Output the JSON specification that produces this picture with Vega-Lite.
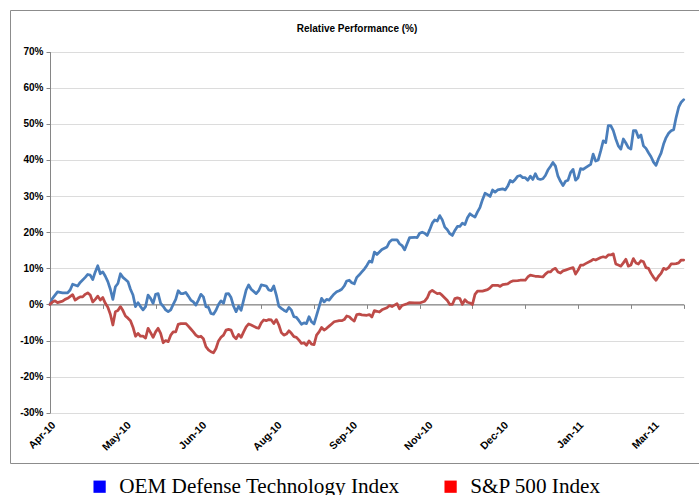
{
  "$schema": "https://vega.github.io/schema/vega-lite/v6.json",
  "width": 692,
  "height": 453,
  "autosize": {"type": "none"},
  "padding": {"left": 10, "top": 10, "right": -3, "bottom": 32},
  "background": "white",
  "config": {"view": {"stroke": "#8C8C8C", "strokeWidth": 1}},
  "title": {"text": "Relative Performance (%)", "font": "Liberation Sans", "fontSize": 10, "fontWeight": "bold", "color": "black", "offset": -24, "anchor": "middle", "dx": 1},
  "datasets": {
    "oem": [
      {"day":0,"value":0},{"day":1,"value":1.7},{"day":3,"value":3.5},{"day":5,"value":3.2},{"day":7,"value":3.2},{"day":8,"value":4.0},{"day":9,"value":5.6},{"day":11,"value":5.1},{"day":12,"value":6.1},{"day":14,"value":7.5},{"day":15,"value":8.3},{"day":16,"value":8.1},{"day":17,"value":6.9},{"day":18,"value":9.0},{"day":19,"value":10.7},{"day":20,"value":8.5},{"day":21,"value":9.0},{"day":22,"value":7.8},{"day":23,"value":6.3},{"day":24,"value":4.2},{"day":25,"value":1.4},{"day":26,"value":4.9},{"day":27,"value":5.8},{"day":28,"value":8.5},{"day":29,"value":7.5},{"day":30,"value":6.9},{"day":31,"value":6.3},{"day":32,"value":4.2},{"day":33,"value":2.6},{"day":34,"value":-0.6},{"day":35,"value":0.5},{"day":36,"value":-0.6},{"day":37,"value":-1.5},{"day":38,"value":-0.6},{"day":39,"value":2.6},{"day":40,"value":1.7},{"day":41,"value":0.3},{"day":42,"value":2.8},{"day":43,"value":3.0},{"day":44,"value":0.3},{"day":45,"value":-0.5},{"day":46,"value":-1.5},{"day":47,"value":-2.0},{"day":48,"value":-1.5},{"day":49,"value":0.0},{"day":50,"value":1.4},{"day":51,"value":3.8},{"day":52,"value":3.0},{"day":53,"value":3.0},{"day":54,"value":3.3},{"day":55,"value":2.3},{"day":56,"value":1.2},{"day":57,"value":0.7},{"day":58,"value":-0.2},{"day":59,"value":1.2},{"day":60,"value":2.8},{"day":61,"value":2.1},{"day":62,"value":-0.6},{"day":63,"value":-0.8},{"day":64,"value":-2.5},{"day":65,"value":-2.7},{"day":66,"value":-1.6},{"day":67,"value":0.0},{"day":68,"value":1.0},{"day":69,"value":0.3},{"day":70,"value":2.9},{"day":71,"value":3.0},{"day":72,"value":1.9},{"day":73,"value":-0.5},{"day":74,"value":-2.0},{"day":75,"value":-0.5},{"day":76,"value":-1.6},{"day":77,"value":1.2},{"day":78,"value":4.0},{"day":79,"value":5.4},{"day":80,"value":4.2},{"day":82,"value":3.0},{"day":83,"value":3.8},{"day":84,"value":5.4},{"day":86,"value":5.1},{"day":87,"value":4.0},{"day":88,"value":3.8},{"day":89,"value":5.1},{"day":90,"value":2.6},{"day":91,"value":-0.5},{"day":92,"value":-1.1},{"day":93,"value":-1.6},{"day":94,"value":-2.0},{"day":95,"value":-0.8},{"day":96,"value":-1.6},{"day":97,"value":-3.4},{"day":98,"value":-3.6},{"day":99,"value":-4.5},{"day":100,"value":-5.5},{"day":101,"value":-5.1},{"day":102,"value":-5.3},{"day":103,"value":-3.4},{"day":104,"value":-4.8},{"day":105,"value":-5.4},{"day":106,"value":-3.0},{"day":107,"value":-0.7},{"day":108,"value":1.7},{"day":109,"value":0.7},{"day":110,"value":1.4},{"day":111,"value":1.2},{"day":112,"value":2.1},{"day":113,"value":2.9},{"day":114,"value":3.5},{"day":115,"value":3.8},{"day":116,"value":4.2},{"day":117,"value":5.1},{"day":118,"value":6.5},{"day":119,"value":6.7},{"day":120,"value":6.0},{"day":121,"value":5.7},{"day":122,"value":7.5},{"day":123,"value":8.2},{"day":124,"value":9.0},{"day":125,"value":9.8},{"day":126,"value":10.8},{"day":127,"value":12.0},{"day":128,"value":11.7},{"day":129,"value":14.5},{"day":130,"value":13.8},{"day":131,"value":14.5},{"day":132,"value":15.2},{"day":134,"value":15.9},{"day":135,"value":17.3},{"day":136,"value":17.9},{"day":138,"value":17.9},{"day":139,"value":16.8},{"day":140,"value":16.3},{"day":141,"value":15.1},{"day":142,"value":16.8},{"day":143,"value":18.5},{"day":145,"value":18.6},{"day":146,"value":18.5},{"day":147,"value":19.7},{"day":148,"value":20.0},{"day":149,"value":19.7},{"day":150,"value":19.1},{"day":151,"value":20.7},{"day":152,"value":22.5},{"day":153,"value":23.4},{"day":154,"value":23.1},{"day":155,"value":24.6},{"day":156,"value":23.4},{"day":157,"value":21.4},{"day":158,"value":20.7},{"day":159,"value":19.6},{"day":160,"value":19.1},{"day":161,"value":20.5},{"day":162,"value":21.6},{"day":163,"value":21.6},{"day":164,"value":22.5},{"day":165,"value":22.1},{"day":166,"value":24.0},{"day":167,"value":25.1},{"day":168,"value":24.6},{"day":169,"value":24.2},{"day":170,"value":25.6},{"day":171,"value":26.9},{"day":172,"value":29.0},{"day":173,"value":30.8},{"day":174,"value":30.4},{"day":175,"value":29.9},{"day":176,"value":31.7},{"day":177,"value":31.1},{"day":178,"value":31.7},{"day":180,"value":32.0},{"day":181,"value":31.7},{"day":182,"value":32.7},{"day":183,"value":34.3},{"day":184,"value":33.9},{"day":185,"value":34.6},{"day":186,"value":35.5},{"day":187,"value":35.7},{"day":188,"value":35.1},{"day":189,"value":35.1},{"day":190,"value":34.4},{"day":191,"value":35.5},{"day":192,"value":34.6},{"day":193,"value":36.2},{"day":194,"value":34.8},{"day":195,"value":34.6},{"day":196,"value":34.8},{"day":197,"value":35.7},{"day":198,"value":37.2},{"day":199,"value":38.2},{"day":200,"value":39.3},{"day":201,"value":38.3},{"day":202,"value":35.5},{"day":203,"value":34.1},{"day":204,"value":32.9},{"day":205,"value":34.1},{"day":206,"value":34.4},{"day":207,"value":36.5},{"day":208,"value":37.4},{"day":209,"value":34.4},{"day":210,"value":35.1},{"day":211,"value":37.6},{"day":212,"value":37.4},{"day":213,"value":37.9},{"day":215,"value":38.8},{"day":216,"value":41.6},{"day":217,"value":39.7},{"day":218,"value":40.0},{"day":219,"value":42.5},{"day":220,"value":45.3},{"day":221,"value":44.8},{"day":222,"value":49.5},{"day":223,"value":49.5},{"day":224,"value":48.1},{"day":225,"value":45.8},{"day":226,"value":43.9},{"day":227,"value":43.0},{"day":228,"value":45.8},{"day":229,"value":44.7},{"day":230,"value":43.4},{"day":231,"value":43.0},{"day":232,"value":48.1},{"day":233,"value":48.1},{"day":234,"value":46.2},{"day":235,"value":46.9},{"day":236,"value":43.9},{"day":237,"value":43.2},{"day":238,"value":42.0},{"day":239,"value":40.9},{"day":240,"value":39.4},{"day":241,"value":38.5},{"day":242,"value":40.4},{"day":243,"value":41.9},{"day":244,"value":44.4},{"day":245,"value":46.2},{"day":246,"value":47.4},{"day":247,"value":48.1},{"day":248,"value":48.4},{"day":249,"value":51.8},{"day":250,"value":54.6},{"day":251,"value":56.0},{"day":252,"value":56.7}
    ],
    "sp": [
      {"day":0,"value":0},{"day":1,"value":0.7},{"day":2,"value":1.0},{"day":3,"value":0.5},{"day":5,"value":0.9},{"day":6,"value":1.4},{"day":7,"value":1.7},{"day":9,"value":2.7},{"day":10,"value":1.2},{"day":11,"value":1.7},{"day":12,"value":2.1},{"day":13,"value":2.1},{"day":14,"value":2.8},{"day":15,"value":3.2},{"day":16,"value":2.6},{"day":17,"value":0.7},{"day":18,"value":1.4},{"day":19,"value":2.3},{"day":20,"value":1.2},{"day":21,"value":1.9},{"day":22,"value":0.3},{"day":23,"value":-0.8},{"day":24,"value":-2.7},{"day":25,"value":-5.7},{"day":26,"value":-2.0},{"day":27,"value":-1.7},{"day":28,"value":-0.6},{"day":29,"value":-1.7},{"day":30,"value":-3.2},{"day":31,"value":-3.8},{"day":32,"value":-4.5},{"day":33,"value":-6.3},{"day":34,"value":-8.8},{"day":35,"value":-8.0},{"day":36,"value":-8.8},{"day":37,"value":-8.8},{"day":38,"value":-9.3},{"day":39,"value":-6.6},{"day":40,"value":-7.8},{"day":41,"value":-9.1},{"day":42,"value":-7.6},{"day":43,"value":-6.6},{"day":44,"value":-8.0},{"day":45,"value":-10.6},{"day":46,"value":-10.0},{"day":47,"value":-10.3},{"day":48,"value":-8.5},{"day":49,"value":-7.6},{"day":50,"value":-7.6},{"day":51,"value":-5.5},{"day":52,"value":-5.3},{"day":53,"value":-5.3},{"day":54,"value":-5.3},{"day":55,"value":-6.0},{"day":56,"value":-6.8},{"day":57,"value":-7.6},{"day":58,"value":-8.5},{"day":59,"value":-9.0},{"day":60,"value":-8.8},{"day":61,"value":-9.5},{"day":62,"value":-11.7},{"day":63,"value":-12.6},{"day":64,"value":-13.1},{"day":65,"value":-13.4},{"day":66,"value":-12.2},{"day":67,"value":-10.1},{"day":68,"value":-9.1},{"day":69,"value":-8.5},{"day":70,"value":-7.1},{"day":71,"value":-6.9},{"day":72,"value":-7.1},{"day":73,"value":-8.8},{"day":74,"value":-9.5},{"day":75,"value":-8.3},{"day":76,"value":-9.1},{"day":77,"value":-7.6},{"day":78,"value":-6.2},{"day":79,"value":-5.4},{"day":80,"value":-5.7},{"day":82,"value":-6.4},{"day":83,"value":-6.6},{"day":84,"value":-5.1},{"day":85,"value":-4.3},{"day":86,"value":-4.5},{"day":87,"value":-4.2},{"day":88,"value":-4.3},{"day":89,"value":-5.3},{"day":90,"value":-4.2},{"day":91,"value":-5.7},{"day":92,"value":-7.8},{"day":93,"value":-8.5},{"day":94,"value":-8.2},{"day":95,"value":-7.3},{"day":96,"value":-8.0},{"day":97,"value":-8.9},{"day":98,"value":-9.1},{"day":99,"value":-9.9},{"day":100,"value":-10.8},{"day":101,"value":-10.6},{"day":102,"value":-11.3},{"day":103,"value":-10.1},{"day":104,"value":-11.0},{"day":105,"value":-11.1},{"day":106,"value":-8.5},{"day":107,"value":-7.6},{"day":108,"value":-6.4},{"day":109,"value":-7.1},{"day":110,"value":-6.6},{"day":111,"value":-6.0},{"day":112,"value":-5.4},{"day":113,"value":-4.8},{"day":115,"value":-4.5},{"day":116,"value":-4.5},{"day":117,"value":-4.2},{"day":118,"value":-3.2},{"day":119,"value":-3.4},{"day":120,"value":-4.1},{"day":121,"value":-4.6},{"day":122,"value":-2.8},{"day":123,"value":-2.7},{"day":124,"value":-2.9},{"day":126,"value":-3.0},{"day":127,"value":-2.8},{"day":128,"value":-3.5},{"day":129,"value":-1.7},{"day":131,"value":-2.1},{"day":132,"value":-1.5},{"day":134,"value":-0.9},{"day":135,"value":-0.3},{"day":136,"value":-0.6},{"day":137,"value":-0.2},{"day":138,"value":0.2},{"day":139,"value":-1.2},{"day":140,"value":-0.3},{"day":142,"value":0.2},{"day":143,"value":0.5},{"day":145,"value":0.4},{"day":147,"value":0.4},{"day":149,"value":0.9},{"day":150,"value":1.8},{"day":151,"value":3.4},{"day":152,"value":3.9},{"day":153,"value":3.4},{"day":154,"value":3.0},{"day":155,"value":3.1},{"day":156,"value":2.5},{"day":157,"value":1.8},{"day":158,"value":1.1},{"day":159,"value":0.0},{"day":160,"value":0.0},{"day":161,"value":1.6},{"day":162,"value":1.8},{"day":163,"value":1.6},{"day":164,"value":0.0},{"day":165,"value":1.3},{"day":166,"value":0.6},{"day":167,"value":0.4},{"day":168,"value":0.0},{"day":169,"value":2.8},{"day":170,"value":3.7},{"day":172,"value":3.7},{"day":174,"value":4.1},{"day":175,"value":4.6},{"day":176,"value":5.3},{"day":178,"value":5.3},{"day":179,"value":5.0},{"day":180,"value":5.5},{"day":182,"value":5.7},{"day":183,"value":6.2},{"day":184,"value":6.5},{"day":186,"value":6.6},{"day":187,"value":6.7},{"day":189,"value":6.7},{"day":190,"value":7.6},{"day":191,"value":8.1},{"day":193,"value":7.8},{"day":194,"value":7.8},{"day":196,"value":7.6},{"day":197,"value":8.4},{"day":198,"value":9.0},{"day":199,"value":9.0},{"day":200,"value":9.7},{"day":201,"value":10.0},{"day":202,"value":9.0},{"day":203,"value":8.7},{"day":204,"value":9.3},{"day":205,"value":9.5},{"day":207,"value":10.0},{"day":208,"value":10.2},{"day":209,"value":8.4},{"day":210,"value":9.5},{"day":211,"value":10.9},{"day":212,"value":10.9},{"day":213,"value":11.3},{"day":215,"value":12.0},{"day":216,"value":12.5},{"day":217,"value":12.3},{"day":219,"value":13.0},{"day":220,"value":13.2},{"day":221,"value":13.0},{"day":222,"value":13.7},{"day":223,"value":13.7},{"day":224,"value":14.0},{"day":225,"value":11.2},{"day":226,"value":10.9},{"day":227,"value":10.6},{"day":228,"value":11.5},{"day":229,"value":12.5},{"day":230,"value":10.6},{"day":231,"value":10.9},{"day":232,"value":12.7},{"day":233,"value":11.5},{"day":234,"value":11.2},{"day":235,"value":12.1},{"day":236,"value":11.8},{"day":237,"value":10.2},{"day":238,"value":10.0},{"day":239,"value":8.6},{"day":240,"value":7.5},{"day":241,"value":6.7},{"day":242,"value":7.8},{"day":243,"value":8.6},{"day":244,"value":10.0},{"day":245,"value":9.7},{"day":246,"value":10.2},{"day":247,"value":11.2},{"day":248,"value":11.2},{"day":249,"value":11.3},{"day":250,"value":11.5},{"day":251,"value":12.3},{"day":252,"value":12.3}
    ]
  },
  "layer": [
    {
      "data": {"name": "oem"},
      "mark": {"type": "line", "strokeWidth": 2.75, "strokeJoin": "round", "strokeCap": "round"},
      "encoding": {
        "x": {"field": "day", "type": "quantitative",
          "scale": {"domain": [0, 252], "range": [40, 673.7], "nice": false, "zero": false},
          "axis": {"orient": "bottom", "offset": -158.6, "values": [0,21,42,63,84,105,126,147,168,189,210,231,252], "labels": false, "ticks": true, "tickSize": 4, "tickColor": "#868686", "tickWidth": 1, "domain": true, "domainColor": "#868686", "domainWidth": 1.2, "grid": false, "title": null}},
        "y": {"field": "value", "type": "quantitative",
          "scale": {"domain": [-30, 70], "range": [402.8, 41.6], "nice": false, "zero": false},
          "axis": {"offset": -40, "values": [-30,-20,-10,0,10,20,30,40,50,60,70], "labelExpr": "datum.value + '%'", "grid": true, "gridColor": "#DCDCDC", "gridWidth": 1, "domainColor": "#868686", "tickColor": "#868686", "tickSize": 4, "labelFont": "Liberation Sans", "labelFontSize": 10, "labelFontWeight": "bold", "labelColor": "black", "labelPadding": 3, "title": null}},
        "stroke": {"datum": "OEM Defense Technology Index", "type": "nominal",
          "scale": {"domain": ["OEM Defense Technology Index", "S&P 500 Index"], "range": ["#4A7EBB", "#BE4B48"]},
          "legend": {"orient": "none", "legendX": 79, "legendY": 466, "direction": "horizontal", "title": null, "labelFont": "Liberation Serif", "labelFontSize": 21.2, "labelColor": "black", "labelLimit": 400, "symbolType": "square", "symbolSize": 150, "symbolStrokeWidth": 0, "labelOffset": 9, "columnPadding": 40, "padding": 0,
            "encode": {"symbols": {"update": {"fill": {"signal": "datum.value === 'S&P 500 Index' ? '#FF0000' : '#0000FF'"}, "opacity": {"value": 1}, "strokeWidth": {"value": 0}}}}}}
      }
    },
    {
      "data": {"name": "sp"},
      "mark": {"type": "line", "strokeWidth": 2.75, "strokeJoin": "round", "strokeCap": "round"},
      "encoding": {
        "x": {"field": "day", "type": "quantitative",
          "scale": {"domain": [0, 252], "range": [40, 673.7], "nice": false, "zero": false},
          "axis": {"orient": "bottom", "offset": -50.2, "values": [0,30,60,90,120,150,180,210,240], "labelExpr": "['Apr-10','May-10','Jun-10','Aug-10','Sep-10','Nov-10','Dec-10','Jan-11','Mar-11'][round(datum.value/30)]", "labelAngle": -45, "labelAlign": "right", "labelBaseline": "top", "labelFont": "Liberation Sans", "labelFontSize": 10.5, "labelFontWeight": "bold", "labelColor": "black", "labelPadding": 7, "labelOverlap": false, "labelFlush": false, "ticks": false, "tickSize": 0, "domain": false, "grid": false, "title": null}},
        "y": {"field": "value", "type": "quantitative",
          "scale": {"domain": [-30, 70], "range": [402.8, 41.6], "nice": false, "zero": false}},
        "stroke": {"datum": "S&P 500 Index", "type": "nominal",
          "scale": {"domain": ["OEM Defense Technology Index", "S&P 500 Index"], "range": ["#4A7EBB", "#BE4B48"]}}
      }
    }
  ],
  "resolve": {"axis": {"x": "independent"}}
}
